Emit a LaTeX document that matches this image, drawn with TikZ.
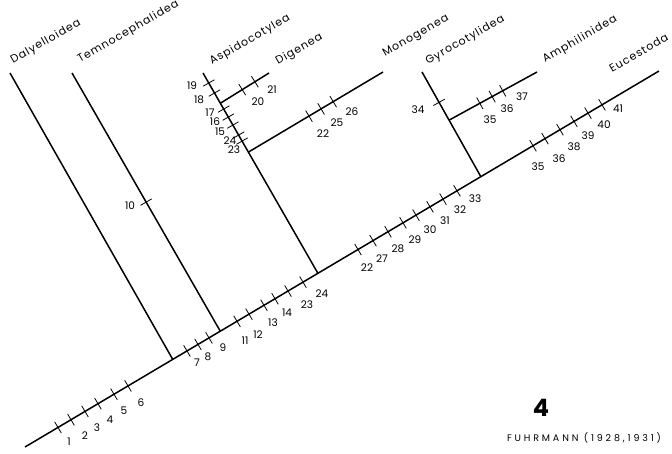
\documentclass[tikz,border=0pt]{standalone}
\usepackage{fontspec}
\setmainfont{Poppins}
\usetikzlibrary{positioning, calc}

\begin{document}
\begin{tikzpicture}[
  x=1pt, y=-1pt,
  stem/.style={line width=1.5pt},
  tick/.style={draw, line width=0.8pt, sloped, minimum width=0pt,
               minimum height=13pt, inner sep=0pt, outer sep=0pt},
  num/.style={font=\fontsize{10.5}{10.5}\selectfont, inner sep=0pt},
  taxon/.style={font=\fontsize{11}{11}\selectfont\addfontfeatures{LetterSpace=9},
                rotate=30, anchor=base west, inner sep=0pt}
]
\useasboundingbox (0,0) rectangle (672,453);

% branch ends
\coordinate (root) at (25,447);
\coordinate (eucT) at (659,71);
\coordinate (dalT) at (10,73);
\coordinate (temT) at (72,73);
\coordinate (aspT) at (203,73);
\coordinate (digT) at (269,73);
\coordinate (monT) at (383,72);
\coordinate (gyrT) at (422,72);
\coordinate (ampT) at (537,72);

% junctions
\coordinate (jDal) at ($(root)!0.233!(eucT)$);
\coordinate (jTem) at ($(root)!0.308!(eucT)$);
\coordinate (jAsp) at ($(root)!0.462!(eucT)$);
\coordinate (jGyr) at ($(root)!0.719!(eucT)$);
\coordinate (jDig) at ($(aspT)!0.151!(jAsp)$);
\coordinate (jMon) at ($(aspT)!0.395!(jAsp)$);
\coordinate (jAmp) at ($(gyrT)!0.46!(jGyr)$);

\node[taxon] (dal) at ($(dalT)+(3,-9)$) {Dalyelloidea};
\node[taxon] (tem) at ($(temT)+(8,-10)$) {Temnocephalidea};
\node[taxon] (asp) at ($(aspT)+(9,-8)$) {Aspidocotylea};
\node[taxon] (dig) at ($(digT)+(9,-8)$) {Digenea};
\node[taxon] (mon) at ($(monT)+(2,-15)$) {Monogenea};
\node[taxon] (gyr) at ($(gyrT)+(6,-7)$) {Gyrocotylidea};
\node[taxon] (amp) at ($(ampT)+(8,-9)$) {Amphilinidea};
\node[taxon] (euc) at ($(eucT)+(-47,2)$) {Eucestoda};

\draw[stem] (root) -- (eucT);
\draw[stem] (dalT) -- (jDal);
\draw[stem] (temT) -- (jTem);
\draw[stem] (aspT) -- (jAsp);
\draw[stem] (jDig) -- (digT);
\draw[stem] (jMon) -- (monT);
\draw[stem] (gyrT) -- (jGyr);
\draw[stem] (jAmp) -- (ampT);

% characters on the main stem
\foreach \x/\n/\lx/\ly in {58/1/69/442, 71/2/85/436, 85/3/97/428, 98/4/110/420,
    114/5/124/411, 128/6/141/403, 187/7/197/363, 198/8/208/357, 209/9/223/348,
    237/11/245/341, 249/12/258/335, 264/13/273/323, 275/14/287/313,
    288/23/307/305, 303/24/322/294, 358/22/367/268, 373/27/382/259,
    388/28/398/249, 403/29/415/240, 416/30/430/230, 430/31/445/221,
    443/32/460/210, 457/33/475/199, 533/35/538/167, 545/36/559/159,
    560/38/574/147, 574/39/588/136, 588/40/604/125, 602/41/618/109}{
  \pgfmathsetmacro\pp{(\x-25)/634}
  \path (root) -- (eucT) node[tick, pos=\pp] (tr\n) {};
  \node[num] (ntr\n) at (\lx,\ly) {\n};
}

% characters on the side branches
\foreach \a/\b/\p/\n/\lx/\ly in {temT/jTem/0.50/10/130/206,
    aspT/jAsp/0.05/19/192/86, aspT/jAsp/0.10/18/199/100,
    aspT/jAsp/0.18/17/210/113, aspT/jAsp/0.22/16/215/122,
    aspT/jAsp/0.26/15/220/132, aspT/jAsp/0.31/24/230/141,
    aspT/jAsp/0.34/23/234/150,
    jDig/digT/0.45/20/258/102, jDig/digT/0.71/21/272/90,
    jMon/monT/0.45/22/323/134, jMon/monT/0.54/25/337/123, jMon/monT/0.63/26/352/112,
    gyrT/jGyr/0.29/34/418/110,
    jAmp/ampT/0.35/35/490/120, jAmp/ampT/0.49/36/507/109, jAmp/ampT/0.61/37/522/97}{
  \path (\a) -- (\b) node[tick, pos=\p] (t\a\n) {};
  \node[num] (n\a\n) at (\lx,\ly) {\n};
}

\node[font=\fontsize{24}{24}\selectfont\bfseries] (fig) at (541,408) {4};
\node[font=\fontsize{9.5}{9.5}\selectfont\addfontfeatures{LetterSpace=30}, inner sep=0pt]
  (src) at (584,438) {FUHRMANN (1928,1931)};
\end{tikzpicture}
\end{document}
